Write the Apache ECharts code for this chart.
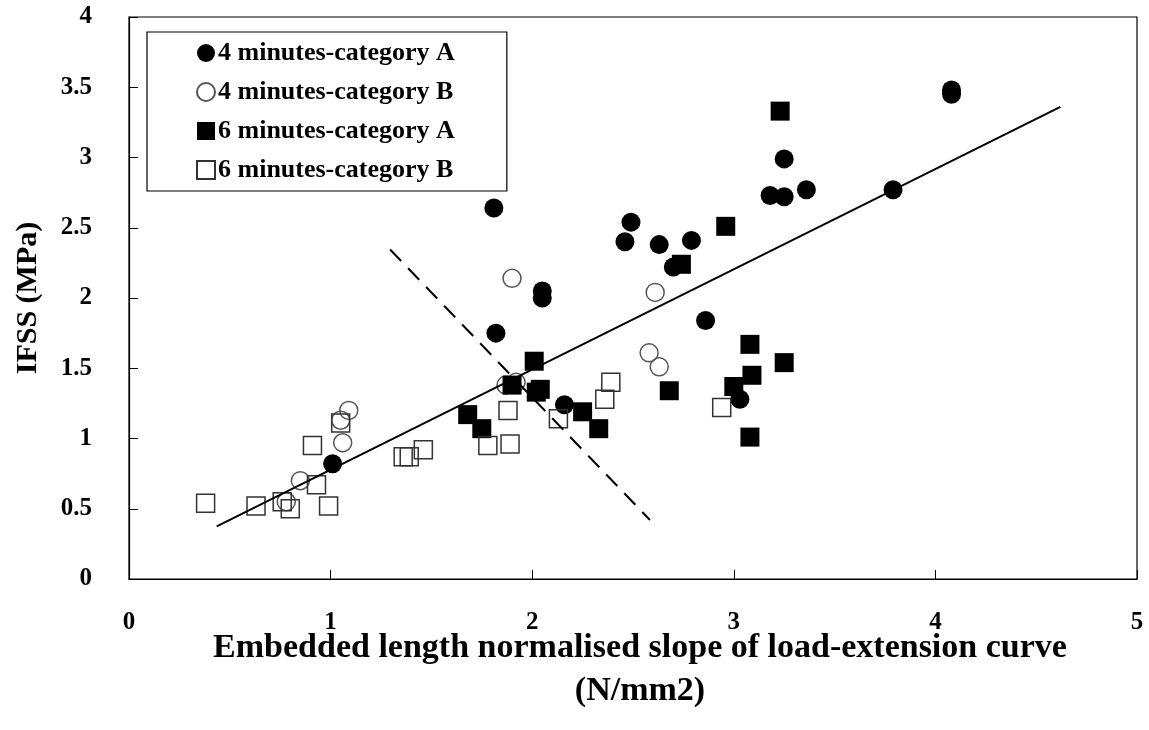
<!DOCTYPE html>
<html>
<head>
<meta charset="utf-8">
<script src="https://cdn.jsdelivr.net/npm/echarts@6/dist/echarts.min.js"></script>
<style>
html,body{margin:0;padding:0;background:#fff;}
#chart{width:1149px;height:730px;}
</style>
</head>
<body>
<div id="chart"></div>
<script>
// ---- data ----
const seriesNames = ["4 minutes-category A", "4 minutes-category B", "6 minutes-category A", "6 minutes-category B"];
const min4A = [[1.81,2.64],[1.82,1.75],[2.05,2.05],[2.05,2.00],[2.16,1.24],[2.49,2.54],[2.46,2.40],[2.63,2.38],[2.79,2.41],[2.70,2.22],[2.86,1.84],[3.03,1.28],[3.25,2.99],[3.18,2.73],[3.25,2.72],[3.36,2.77],[3.79,2.77],[4.08,3.48],[4.08,3.45],[1.01,0.82]];
const min4B = [[1.09,1.20],[1.05,1.13],[1.06,0.97],[0.85,0.70],[0.78,0.55],[1.90,2.14],[1.87,1.38],[1.92,1.40],[2.61,2.04],[2.58,1.61],[2.63,1.51]];
const min6A = [[2.01,1.55],[1.90,1.38],[2.02,1.33],[2.04,1.35],[1.68,1.17],[1.75,1.07],[2.25,1.19],[2.33,1.07],[2.96,2.51],[2.74,2.24],[2.68,1.34],[3.08,1.67],[3.25,1.54],[3.09,1.45],[3.00,1.37],[3.08,1.01],[3.23,3.33]];
const min6B = [[0.38,0.54],[0.63,0.52],[0.76,0.55],[0.80,0.50],[0.99,0.52],[0.93,0.67],[0.91,0.95],[1.05,1.11],[1.36,0.87],[1.39,0.87],[1.46,0.92],[1.88,1.20],[1.78,0.95],[1.89,0.96],[2.13,1.14],[2.36,1.28],[2.39,1.40],[2.94,1.22]];
const trendLine = [[0.435,0.374],[4.62,3.36]];
const dashedLine = [[1.295,2.345],[2.584,0.42]];
const xTicks = [0,1,2,3,4,5];
const yTicks = [0,0.5,1,1.5,2,2.5,3,3.5,4];
const xTitle = "Embedded length normalised slope of load-extension curve\n(N/mm2)";
const yTitle = "IFSS (MPa)";

const FONT = "Liberation Serif";
const chart = echarts.init(document.getElementById('chart'), null, {renderer:'canvas'});

const option = {
  animation: false,
  backgroundColor: '#fff',
  grid: {left:129, top:17, width:1008, height:562, show:true, borderColor:'#000', borderWidth:1.2, backgroundColor:'transparent'},
  legend: {
    orient:'vertical', left:147, top:32,
    data: seriesNames,
    itemWidth:18, itemHeight:18, itemGap:13,
    padding:[8,52,8,49],
    borderColor:'#000', borderWidth:1.2,
    textStyle:{fontFamily:FONT, fontWeight:'bold', fontSize:26, color:'#000', padding:[0,0,0,-2]}
  },
  xAxis: {
    type:'value', min:0, max:5, interval:1,
    axisLine:{show:true, lineStyle:{color:'#000', width:1.2}},
    axisTick:{show:true, inside:true, length:9, lineStyle:{color:'#000'}},
    splitLine:{show:false},
    axisLabel:{fontFamily:FONT, fontWeight:'bold', fontSize:25, color:'#000', margin:31,
      formatter: v => xTicks.includes(v) ? String(v) : ''},
    name: xTitle, nameLocation:'middle', nameGap:48, nameMoveOverlap:false,
    nameTextStyle:{fontFamily:FONT, fontWeight:'bold', fontSize:34, color:'#000', lineHeight:43, padding:[0,0,0,14]}
  },
  yAxis: {
    type:'value', min:0, max:4, interval:0.5,
    axisLine:{show:true, lineStyle:{color:'#000', width:1.2}},
    axisTick:{show:true, inside:true, length:9, lineStyle:{color:'#000'}},
    splitLine:{show:false},
    axisLabel:{fontFamily:FONT, fontWeight:'bold', fontSize:25, color:'#000', margin:37,
      formatter: v => yTicks.includes(v) ? String(v) : ''},
    name: yTitle, nameLocation:'middle', nameGap:86, nameRotate:90, nameMoveOverlap:false,
    nameTextStyle:{fontFamily:FONT, fontWeight:'bold', fontSize:30, color:'#000'}
  },
  series: [
    {name:seriesNames[0], type:'scatter', data:min4A, symbol:'circle', symbolSize:19,
      itemStyle:{color:'#000', opacity:1}},
    {name:seriesNames[1], type:'scatter', data:min4B, symbol:'circle', symbolSize:18,
      itemStyle:{color:'rgba(255,255,255,0)', borderColor:'#555', borderWidth:1.5, opacity:1}},
    {name:seriesNames[2], type:'scatter', data:min6A, symbol:'rect', symbolSize:19,
      itemStyle:{color:'#000', opacity:1}},
    {name:seriesNames[3], type:'scatter', data:min6B, symbol:'rect', symbolSize:18,
      itemStyle:{color:'rgba(255,255,255,0)', borderColor:'#333', borderWidth:1.5, opacity:1}},
    {name:'trend', type:'line', data:trendLine, symbol:'none', silent:true,
      lineStyle:{color:'#000', width:2}},
    {name:'divider', type:'line', data:dashedLine, symbol:'none', silent:true,
      lineStyle:{color:'#000', width:2, type:[16,10]}}
  ]
};
chart.setOption(option);
</script>
</body>
</html>
